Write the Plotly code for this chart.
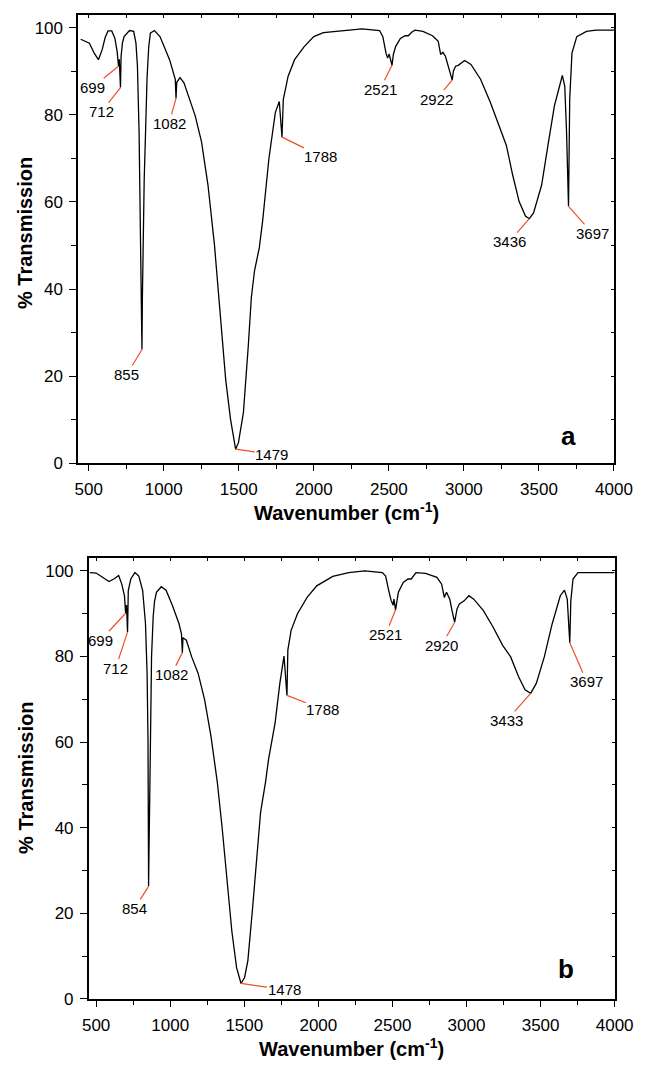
import plotly.graph_objects as go

# ---------------- data: spectrum a ----------------
wn_a = [447, 505, 537, 565, 590, 610, 629, 654, 675, 690, 699, 704, 712, 716, 725, 736, 772, 800,
        815, 825, 836, 842, 847, 851, 855, 858, 862, 870, 879, 889, 900, 911, 938, 975, 1007, 1039,
        1077, 1082, 1087, 1109, 1135, 1167, 1210, 1252, 1295, 1338, 1359, 1381, 1413, 1445, 1479,
        1498, 1531, 1563, 1584, 1605, 1637, 1659, 1701, 1744, 1770, 1788, 1797, 1829, 1872, 1936,
        2000, 2064, 2150, 2321, 2438, 2460, 2481, 2492, 2502, 2510, 2521, 2530, 2545, 2577, 2609,
        2630, 2652, 2674, 2727, 2791, 2829, 2845, 2860, 2877, 2898, 2922, 2930, 2945, 2962, 3005,
        3047, 3111, 3176, 3240, 3283, 3325, 3368, 3411, 3436, 3464, 3518, 3560, 3603, 3635, 3646,
        3656, 3672, 3684, 3697, 3705, 3720, 3752, 3817, 3881, 4000]
T_a = [97.4, 96.5, 94.2, 92.7, 95.0, 97.8, 99.3, 99.3, 97.6, 94.5, 91.2, 92.8, 86.3, 93.5, 96.5, 98.0, 99.4, 99.2,
       96.5, 91.2, 76.0, 61.0, 49.5, 35.0, 26.1, 38.0, 49.5, 65.0, 76.0, 88.5, 95.5, 98.8, 99.4, 98.0, 95.4, 92.7,
       88.2, 83.8, 87.5, 88.6, 87.4, 84.0, 79.8, 73.8, 63.9, 50.2, 41.9, 32.0, 19.2, 10.1, 3.2,
       4.7, 11.6, 26.7, 38.1, 44.2, 49.5, 55.6, 70.0, 80.6, 83.1, 74.9, 83.6, 88.9, 92.7, 95.7,
       98.0, 98.9, 99.2, 99.8, 99.4, 98.0, 94.2, 93.1, 94.0, 93.0, 91.4, 93.9, 95.7, 97.6, 98.2,
       98.2, 99.0, 99.5, 99.2, 98.2, 96.9, 93.9, 94.4, 93.5, 91.2, 88.0, 90.1, 91.2, 91.4, 92.5,
       91.6, 88.2, 82.9, 76.8, 73.0, 66.2, 60.1, 56.7, 56.2, 57.5, 63.9, 73.0, 82.1, 86.3, 87.8,
       89.1, 86.6, 76.0, 59.0, 83.6, 94.2, 98.0, 99.2, 99.5, 99.5]

# ---------------- data: spectrum b ----------------
wn_b = [457, 500, 543, 587, 619, 652, 673, 691, 699, 705, 712, 717, 734, 762, 788, 814,
        833, 844, 850, 852, 854, 857, 863, 868, 874, 885, 894, 907, 940, 972, 1015, 1059, 1076,
        1082, 1086, 1109, 1145, 1188, 1232, 1275, 1318, 1351, 1383, 1416, 1448, 1478, 1502, 1524,
        1556, 1589, 1610, 1643, 1664, 1708, 1740, 1768, 1788, 1794, 1816, 1859, 1924, 1989, 2032,
        2097, 2205, 2313, 2432, 2454, 2475, 2491, 2505, 2510, 2521, 2540, 2573, 2605, 2627, 2659,
        2724, 2800, 2832, 2850, 2865, 2887, 2904, 2920, 2936, 2952, 2984, 3016, 3049, 3114, 3179,
        3244, 3298, 3351, 3395, 3433, 3471, 3525, 3578, 3633, 3661, 3680, 3697, 3704, 3719, 3752,
        3829, 4000]
T_b = [99.6, 99.5, 98.5, 97.5, 98.1, 98.9, 96.9, 94.2, 90.1, 92.0, 85.7, 95.4, 98.1, 99.6, 98.8, 95.4,
       87.7, 76.0, 60.6, 40.0, 26.3, 35.0, 50.6, 64.5, 80.0, 89.3, 92.8, 95.0, 96.3, 95.5, 91.9, 87.7, 85.3,
       80.9, 84.4, 83.8, 79.9, 76.1, 69.9, 61.4, 50.6, 39.8, 27.4, 15.8, 7.3, 3.6, 5.0, 8.9,
       21.2, 35.1, 43.6, 50.6, 56.0, 64.5, 73.7, 80.1, 70.9, 81.5, 86.1, 90.0, 93.8, 96.5, 97.3,
       98.7, 99.6, 100.0, 99.6, 98.8, 95.4, 93.1, 92.0, 93.4, 90.9, 95.0, 97.3, 98.1, 98.1, 99.6,
       99.4, 98.5, 96.9, 93.8, 95.0, 93.4, 90.4, 88.0, 91.1, 92.3, 93.0, 94.2, 93.4, 90.7, 86.9,
       82.6, 79.9, 75.3, 72.2, 71.4, 73.7, 79.9, 87.6, 94.2, 95.5, 93.4, 83.2, 93.0, 98.1, 99.6,
       99.6, 99.6]

# ---------------- peak labels ----------------
peaks_a = [699, 712, 855, 1082, 1479, 1788, 2521, 2922, 3436, 3697]
peakT_a = [91.2, 86.3, 26.1, 83.8, 3.2, 74.9, 91.4, 88.0, 56.2, 59.0]
peaks_b = [699, 712, 854, 1082, 1478, 1788, 2521, 2920, 3433, 3697]
peakT_b = [90.1, 85.7, 26.3, 80.9, 3.6, 70.9, 90.9, 88.0, 71.4, 83.2]

# label offsets (pixels) -- layout only
off_a = [(-26, 21), (-19, 24), (-15, 25), (-7, 25), (36, 5), (39, 19), (-12, 24), (-16, 19), (-20, 23), (24, 27)]
off_b = [(-25, 27), (-12, 36), (-14, 22), (-11, 22), (43, 6), (36, 14), (-10, 25), (-13, 23), (-24, 27), (17, 39)]

W, H = 658, 1070
RED = "#ef4f26"
FONT = "Arial, Liberation Sans, sans-serif"

fig = go.Figure()
fig.add_trace(go.Scatter(x=wn_a, y=T_a, mode="lines", line=dict(color="black", width=1.3),
                         xaxis="x", yaxis="y", showlegend=False, hoverinfo="skip"))
fig.add_trace(go.Scatter(x=wn_b, y=T_b, mode="lines", line=dict(color="black", width=1.3),
                         xaxis="x2", yaxis="y2", showlegend=False, hoverinfo="skip"))

dom_xa = [75 / W, 632 / W]
dom_ya = [1 - 467.5 / H, 1 - 15 / H]
dom_xb = [86 / W, 632.7 / W]
dom_yb = [1 - 1008.3 / H, 1 - 563.3 / H]

def xmain(dom, rng, anchor):
    return dict(domain=dom, range=rng, anchor=anchor, tick0=500, dtick=500, ticks="outside", ticklen=6,
                tickwidth=1.3, tickcolor="black", showline=True, linecolor="black", linewidth=1.5,
                showgrid=False, zeroline=False, tickfont=dict(family=FONT, size=17, color="black"),
                minor=dict(dtick=250, tick0=500, ticks="outside", ticklen=4, tickwidth=1.2, tickcolor="black"),
                ticklabelstandoff=4)

def ymain(dom, anchor):
    return dict(domain=dom, range=[0, 103], anchor=anchor, tick0=0, dtick=20, ticks="outside", ticklen=7,
                tickwidth=1.3, tickcolor="black", showline=True, linecolor="black", linewidth=1.5,
                showgrid=False, zeroline=False, tickfont=dict(family=FONT, size=17, color="black"),
                minor=dict(dtick=10, ticks="outside", ticklen=5, tickwidth=1.2, tickcolor="black"),
                ticklabelstandoff=3)

def xover(rng, over, anchor):
    return dict(range=rng, overlaying=over, anchor=anchor, side="top", tick0=500, dtick=250, ticks="inside",
                ticklen=3, tickwidth=1.2, tickcolor="black", showticklabels=False, showline=True,
                linecolor="black", linewidth=1.5, showgrid=False, zeroline=False)

def yover(over, anchor):
    return dict(range=[0, 103], overlaying=over, anchor=anchor, side="right", tick0=0, dtick=10, ticks="inside",
                ticklen=3, tickwidth=1.2, tickcolor="black", showticklabels=False, showline=True,
                linecolor="black", linewidth=1.5, showgrid=False, zeroline=False)

rng_a = [430, 4000]
rng_b = [450, 4000]

fig.update_layout(
    width=W, height=H, margin=dict(l=0, r=0, t=0, b=0),
    paper_bgcolor="white", plot_bgcolor="white",
    xaxis=xmain(dom_xa, rng_a, "y"), yaxis=ymain(dom_ya, "x"),
    xaxis2=xmain(dom_xb, rng_b, "y2"), yaxis2=ymain(dom_yb, "x2"),
    xaxis3=xover(rng_a, "x", "y"), yaxis3=yover("y", "x"),
    xaxis4=xover(rng_b, "x2", "y2"), yaxis4=yover("y2", "x2"),
)

# invisible traces to bind overlay axes
fig.add_trace(go.Scatter(x=[rng_a[0]], y=[0], xaxis="x3", yaxis="y3", mode="markers",
                         marker=dict(opacity=0), showlegend=False, hoverinfo="skip"))
fig.add_trace(go.Scatter(x=[rng_b[0]], y=[0], xaxis="x4", yaxis="y4", mode="markers",
                         marker=dict(opacity=0), showlegend=False, hoverinfo="skip"))

anns = []
for pk, pt, (ax, ay) in zip(peaks_a, peakT_a, off_a):
    anns.append(dict(x=pk, y=pt, xref="x", yref="y", text=str(pk), showarrow=True, arrowhead=0,
                     arrowwidth=1.2, arrowcolor=RED, ax=ax, ay=ay, standoff=0, borderpad=0,
                     font=dict(family=FONT, size=15, color="black")))
for pk, pt, (ax, ay) in zip(peaks_b, peakT_b, off_b):
    anns.append(dict(x=pk, y=pt, xref="x2", yref="y2", text=str(pk), showarrow=True, arrowhead=0,
                     arrowwidth=1.2, arrowcolor=RED, ax=ax, ay=ay, standoff=0, borderpad=0,
                     font=dict(family=FONT, size=15, color="black")))

C = dict(xanchor="center", yanchor="middle", showarrow=False)
# panel letters
anns.append(dict(x=0.916, y=0.061, xref="x domain", yref="y domain", text="<b>a</b>",
                 font=dict(family=FONT, size=26, color="black"), **C))
anns.append(dict(x=0.907, y=0.068, xref="x2 domain", yref="y2 domain", text="<b>b</b>",
                 font=dict(family=FONT, size=26, color="black"), **C))

# axis titles
xt = "<b>Wavenumber (cm<sup>-1</sup>)</b>"
yt = "<b>% Transmission</b>"
anns.append(dict(x=(dom_xa[0] + dom_xa[1]) / 2, y=1 - 516 / H, xref="paper", yref="paper", text=xt,
                 font=dict(family=FONT, size=20, color="black"), **C))
anns.append(dict(x=(dom_xb[0] + dom_xb[1]) / 2, y=1 - 1057 / H, xref="paper", yref="paper", text=xt,
                 font=dict(family=FONT, size=20, color="black"), **C))
anns.append(dict(x=20 / W, y=1 - 235 / H, xref="paper", yref="paper", text=yt, textangle=-90,
                 font=dict(family=FONT, size=20, color="black"), **C))
anns.append(dict(x=20 / W, y=1 - 785 / H, xref="paper", yref="paper", text=yt, textangle=-90,
                 font=dict(family=FONT, size=20, color="black"), **C))

fig.update_layout(annotations=anns)
fig.write_html("out.html")
